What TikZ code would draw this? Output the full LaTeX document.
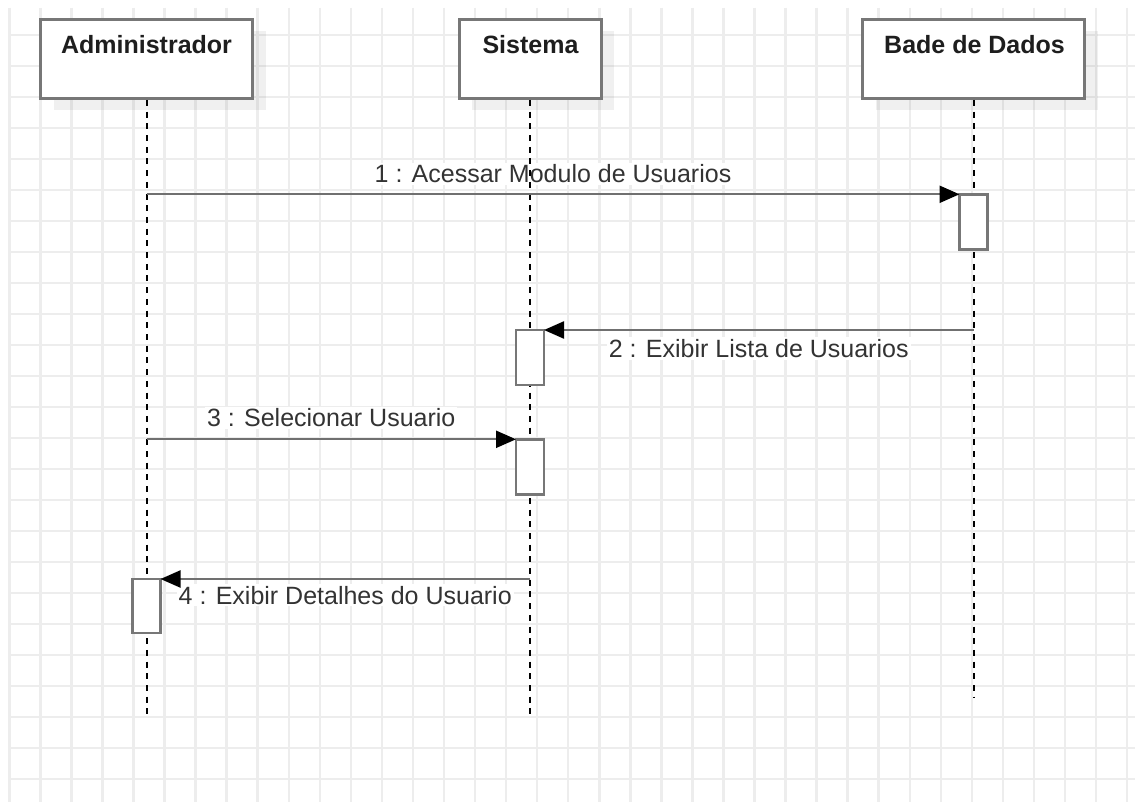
\documentclass[tikz,border=0pt]{standalone}
\usepackage{fontspec}
\setmainfont{Liberation Sans}
\usetikzlibrary{arrows.meta,shadows}
\definecolor{gridc}{HTML}{EDEDED}
\definecolor{boxc}{HTML}{777777}
\definecolor{msgc}{HTML}{707070}
\definecolor{txtc}{HTML}{333333}
\definecolor{ttlc}{HTML}{1E1E1E}
\pgfdeclarelayer{gridlayer}
\pgfdeclarelayer{labellayer}
\pgfsetlayers{gridlayer,labellayer,main}
\begin{document}
\begin{tikzpicture}[x=1pt,y=-1pt,
  gridline/.style={draw=gridc, line width=2.5pt},
  head/.style={draw=boxc, line width=3pt, fill=white, minimum height=79pt, inner sep=0pt,
    drop shadow={shadow xshift=13pt, shadow yshift=-12pt, fill=black, opacity=0.06}},
  ttl/.style={font=\bfseries\fontsize{25}{30}\selectfont, text=ttlc, anchor=base, inner sep=0pt},
  act/.style={draw=boxc, line width=2.7pt, fill=white, minimum width=28pt, inner sep=0pt, outer sep=0pt},
  life/.style={draw=black, line width=2pt, dash pattern=on 6pt off 5.7pt},
  msg/.style={draw=msgc, line width=2.3pt, -{Triangle[length=20pt,width=17pt,black]}},
  lbl/.style={font=\fontsize{25}{30}\selectfont, text=txtc, fill=white, inner sep=2pt, anchor=base},
]
\useasboundingbox (0,0) rectangle (1135,802);
% grid
\begin{pgfonlayer}{gridlayer}
\fill[white] (0,0) rectangle (1135,802);
\begin{scope}
\clip (8,8) rectangle (1135,802);
\foreach \k in {0,...,36} \draw[gridline] ({9.3+31.05*\k},8) -- ({9.3+31.05*\k},802);
\foreach \k in {0,...,24} \draw[gridline] (8,{35+31*\k}) -- (1135,{35+31*\k});
\end{scope}
\end{pgfonlayer}
% lifeline heads
\node[head, minimum width=212pt] (adm) at (146.5,59) {};
\node[head, minimum width=142pt] (sis) at (530,59) {};
\node[head, minimum width=222pt] (bd) at (973.5,59) {};
\node[ttl] (admT) at (146.5,53.3) {Administrador};
\node[ttl] (sisT) at (530.5,53.3) {Sistema};
\node[ttl] (bdT) at (974.5,53.3) {Bade de Dados};
% lifelines
\coordinate (admE) at (146.5,717);
\coordinate (sisE) at (530,717);
\coordinate (bdE) at (973.5,698);
\draw[life] (adm.south) -- (admE);
\draw[life] (sis.south) -- (sisE);
\draw[life] (bd.south) -- (bdE);
% activations
\node[act, minimum height=55pt] (a1) at (973.5,221.8) {};
\node[act, minimum height=55pt] (a2) at (530,357.5) {};
\node[act, minimum height=55pt] (a3) at (530,466.8) {};
\node[act, minimum height=54pt] (a4) at (146.5,606) {};
% messages
\coordinate (m1) at (146.5,194.3);
\coordinate (m2) at (973.5,330);
\coordinate (m3) at (146.5,439.3);
\coordinate (m4) at (530,579);
\begin{pgfonlayer}{labellayer}
\path (m1) -- (a1.north west) node[lbl, midway, yshift=11.6pt] (l1) {1 : Acessar Modulo de Usuarios};
\path (m2) -- (a2.north east) node[lbl, midway, yshift=-27.3pt] (l2) {2 : Exibir Lista de Usuarios};
\path (m3) -- (a3.north west) node[lbl, midway, yshift=12.6pt] (l3) {3 : Selecionar Usuario};
\path (m4) -- (a4.north east) node[lbl, midway, yshift=-25pt] (l4) {4 : Exibir Detalhes do Usuario};
\end{pgfonlayer}
\draw[msg] (m1) -- (a1.north west);
\draw[msg] (m2) -- (a2.north east);
\draw[msg] (m3) -- (a3.north west);
\draw[msg] (m4) -- (a4.north east);
\end{tikzpicture}
\end{document}
